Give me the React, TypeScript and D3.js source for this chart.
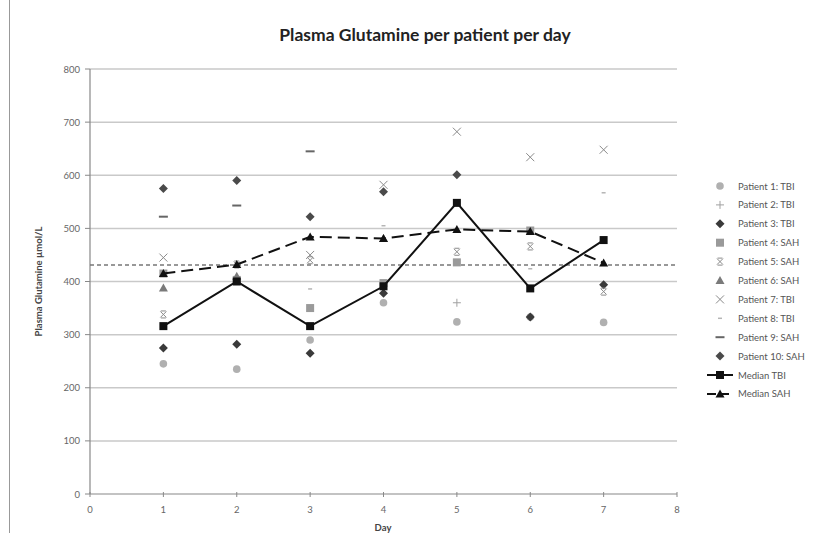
import React from "react";
import * as d3 from "d3";

const days = [1, 2, 3, 4, 5, 6, 7];
const xTicks = [0, 1, 2, 3, 4, 5, 6, 7, 8];
const yTicks = [0, 100, 200, 300, 400, 500, 600, 700, 800];

const p1 = [245, 235, 290, 360, 324, 333, 323];
const p2 = [null, null, null, null, 360, null, null];
const p3 = [275, 282, 265, 378, null, 333, 394];
const p4 = [415, 403, 350, 397, 436, 496, null];
const p5 = [338, 432, 440, null, 456, 466, 381];
const p6 = [388, 410, null, 481, null, null, null];
const p7 = [445, null, 450, 582, 682, 634, 648];
const p8 = [null, null, 386, 505, null, 424, 567];
const p9 = [522, 543, 645, null, null, null, null];
const p10 = [575, 590, 522, 569, 601, null, null];
const medianTBI = [316, 400, 316, 391, 548, 387, 478];
const medianSAH = [415, 432, 484, 481, 498, 494, 435];
const referenceLevel = 431;

const patientNames = [
  "Patient 1: TBI", "Patient 2: TBI", "Patient 3: TBI", "Patient 4: SAH", "Patient 5: SAH",
  "Patient 6: SAH", "Patient 7: TBI", "Patient 8: TBI", "Patient 9: SAH", "Patient 10: SAH",
];
const patientData = [p1, p2, p3, p4, p5, p6, p7, p8, p9, p10];
const markerKinds = ["circle", "plus", "diamond", "square", "star", "triangle", "x", "dashS", "dashL", "diamond"];
const markerColors = ["#b0b0b0", "#a0a0a0", "#3a3a3a", "#9a9a9a", "#8a8a8a", "#7a7a7a", "#8a8a8a", "#b5b5b5", "#666666", "#4a4a4a"];

function Marker({ kind, x, y, color }: { kind: string; x: number; y: number; color: string }) {
  switch (kind) {
    case "circle":
      return <circle cx={x} cy={y} r={3.8} fill={color} />;
    case "plus":
      return <path d={`M${x - 4},${y}H${x + 4}M${x},${y - 4}V${y + 4}`} stroke={color} strokeWidth={1} />;
    case "diamond":
      return <path d={`M${x},${y - 4.5}L${x + 4.5},${y}L${x},${y + 4.5}L${x - 4.5},${y}Z`} fill={color} />;
    case "square":
      return <rect x={x - 4} y={y - 4} width={8} height={8} fill={color} />;
    case "star":
      return <path d={`M${x - 3},${y - 3}L${x + 3},${y + 3}M${x + 3},${y - 3}L${x - 3},${y + 3}M${x - 2.5},${y - 3.5}H${x + 2.5}M${x - 2.5},${y + 3.5}H${x + 2.5}`} stroke={color} strokeWidth={1} />;
    case "triangle":
      return <path d={`M${x},${y - 4.5}L${x + 4.5},${y + 3.5}L${x - 4.5},${y + 3.5}Z`} fill={color} />;
    case "x":
      return <path d={`M${x - 4},${y - 4}L${x + 4},${y + 4}M${x + 4},${y - 4}L${x - 4},${y + 4}`} stroke={color} strokeWidth={1} />;
    case "dashS":
      return <path d={`M${x - 2},${y}H${x + 2}`} stroke={color} strokeWidth={1.5} />;
    case "dashL":
      return <path d={`M${x - 4.5},${y}H${x + 4.5}`} stroke={color} strokeWidth={2} />;
    case "medSquare":
      return <rect x={x - 4} y={y - 4} width={8} height={8} fill="#111" />;
    case "medTri":
      return <path d={`M${x},${y - 4.5}L${x + 4.5},${y + 3.5}L${x - 4.5},${y + 3.5}Z`} fill="#111" />;
  }
  return null;
}

export default function App() {
  const W = 828, H = 533;
  const x = d3.scaleLinear().domain([0, 8]).range([90, 677]);
  const y = d3.scaleLinear().domain([0, 800]).range([494, 69]);
  const font = "Lato, 'Open Sans', sans-serif";

  const line = d3.line<number>().x((_, i) => x(days[i])).y((v) => y(v));

  const legendY = (i: number) => 186 + i * 18.9;
  const small = 9.5;

  return (
    <svg width={W} height={H} style={{ position: "absolute", left: 0, top: 0, background: "#fff" }} fontFamily={font}>
      <rect x={0} y={0} width={W} height={H} fill="#fff" />
      <line x1={9.5} x2={9.5} y1={0} y2={H} stroke="#999" strokeWidth={1} />
      <text x={425} y={41} textAnchor="middle" fontSize={17.5} fontWeight="bold" fill="#222">
        Plasma Glutamine per patient per day
      </text>

      {yTicks.filter((t) => t > 0).map((t) => (
        <line key={t} x1={x(0)} x2={x(8)} y1={y(t)} y2={y(t)} stroke="#c9c9c9" strokeWidth={1.5} />
      ))}
      {yTicks.map((t) => (
        <g key={"yt" + t}>
          <line x1={x(0) - 5} x2={x(0)} y1={y(t)} y2={y(t)} stroke="#888" strokeWidth={1} />
          <text x={x(0) - 10} y={y(t) + 3.5} textAnchor="end" fontSize={small} fill="#666">{t}</text>
        </g>
      ))}
      <line x1={x(0)} x2={x(0)} y1={y(800)} y2={y(0)} stroke="#888" strokeWidth={1.2} />
      <line x1={x(0)} x2={x(8)} y1={y(0)} y2={y(0)} stroke="#888" strokeWidth={1.2} />
      {xTicks.map((t) => (
        <g key={"xt" + t}>
          <line x1={x(t)} x2={x(t)} y1={y(0) - 2} y2={y(0) + 3} stroke="#888" strokeWidth={1} />
          <text x={x(t)} y={y(0) + 19} textAnchor="middle" fontSize={small} fill="#666">{t}</text>
        </g>
      ))}
      <text x={383} y={531} textAnchor="middle" fontSize={small} fontWeight="bold" fill="#444">Day</text>
      <text transform={`translate(42,${y(400)}) rotate(-90)`} textAnchor="middle" fontSize={small} fontWeight="bold" fill="#444">
        Plasma Glutamine µmol/L
      </text>

      <line x1={x(0)} x2={x(8)} y1={y(referenceLevel)} y2={y(referenceLevel)} stroke="#777" strokeWidth={1.5} strokeDasharray="4,3" />

      {patientData.map((arr, pi) =>
        arr.map((v, di) =>
          v == null ? null : (
            <Marker key={pi + "-" + di} kind={markerKinds[pi]} x={x(days[di])} y={y(v)} color={markerColors[pi]} />
          )
        )
      )}

      <path d={line(medianSAH) || ""} fill="none" stroke="#111" strokeWidth={2} strokeDasharray="12,6" />
      {medianSAH.map((v, i) => <Marker key={"ms" + i} kind="medTri" x={x(days[i])} y={y(v)} color="#111" />)}
      <path d={line(medianTBI) || ""} fill="none" stroke="#111" strokeWidth={2} />
      {medianTBI.map((v, i) => <Marker key={"mt" + i} kind="medSquare" x={x(days[i])} y={y(v)} color="#111" />)}

      {patientNames.map((n, i) => (
        <g key={n}>
          <Marker kind={markerKinds[i]} x={720} y={legendY(i)} color={markerColors[i]} />
          <text x={738} y={legendY(i) + 3.5} fontSize={small} fill="#555">{n}</text>
        </g>
      ))}
      <g>
        <line x1={707} x2={733} y1={legendY(10)} y2={legendY(10)} stroke="#111" strokeWidth={2} />
        <Marker kind="medSquare" x={720} y={legendY(10)} color="#111" />
        <text x={738} y={legendY(10) + 3.5} fontSize={small} fill="#555">Median TBI</text>
      </g>
      <g>
        <line x1={707} x2={733} y1={legendY(11)} y2={legendY(11)} stroke="#111" strokeWidth={2} strokeDasharray="9,4" />
        <Marker kind="medTri" x={720} y={legendY(11)} color="#111" />
        <text x={738} y={legendY(11) + 3.5} fontSize={small} fill="#555">Median SAH</text>
      </g>
    </svg>
  );
}
